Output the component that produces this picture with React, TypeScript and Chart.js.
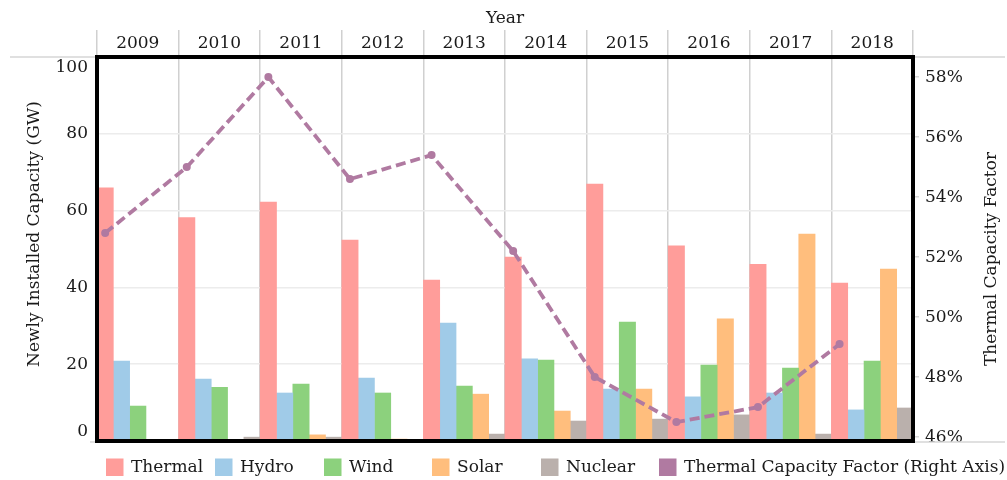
import React, { useEffect, useRef } from 'react';
import { Chart, registerables } from 'chart.js';

Chart.register(...registerables);

// ---------- data ----------
const years = ['2009', '2010', '2011', '2012', '2013', '2014', '2015', '2016', '2017', '2018'];
const thermal = [65.9, 58.2, 62.2, 52.3, 41.9, 47.9, 66.9, 50.8, 46.0, 41.1];
const hydro = [20.8, 16.1, 12.5, 16.4, 30.7, 21.4, 13.5, 11.5, 12.5, 8.1];
const wind = [9.1, 14.0, 14.8, 12.5, 14.3, 21.1, 31.0, 19.8, 19.0, 20.8];
const solar = [0, 0, 1.6, 0.5, 12.2, 7.8, 13.5, 31.8, 53.9, 44.8];
const nuclear = [0, 1.0, 1.0, 0, 1.8, 5.2, 5.7, 6.8, 1.8, 8.6];
const capacityFactor = [52.8, 55.0, 58.0, 54.6, 55.4, 52.2, 48.0, 46.5, 47.0, 49.1];
const leftMin = 0;
const leftMax = 100;
const rightTickValues = [46, 48, 50, 52, 54, 56, 58];

const seriesNames = ['Thermal', 'Hydro', 'Wind', 'Solar', 'Nuclear'];
const lineName = 'Thermal Capacity Factor (Right Axis)';

// ---------- styles ----------
const FONT = 'DejaVu Serif';
const TEXT = '#1a1a1a';
const barColors = ['#ff9d9a', '#a0cbe8', '#8cd17d', '#ffbe7d', '#bab0ac'];
const lineColor = '#b07aa1';
const LEGEND_X = [106, 215, 324, 432, 541, 659];

const decorPlugin = {
  id: 'decor',
  beforeDatasetsDraw(chart: any) {
    const { ctx, chartArea } = chart;
    ctx.save();
    ctx.strokeStyle = '#d6d6d6';
    ctx.lineWidth = 1.5;
    ctx.beginPath();
    ctx.moveTo(10, chartArea.top);
    ctx.lineTo(1005, chartArea.top);
    ctx.moveTo(90, chartArea.bottom + 1);
    ctx.lineTo(1005, chartArea.bottom + 1);
    ctx.stroke();
    ctx.restore();
  },
  afterDraw(chart: any) {
    const { ctx, chartArea } = chart;
    ctx.save();
    // frame
    ctx.strokeStyle = '#000';
    ctx.lineWidth = 4;
    ctx.strokeRect(chartArea.left, chartArea.top, chartArea.right - chartArea.left, chartArea.bottom - chartArea.top);

    ctx.fillStyle = TEXT;
    ctx.font = `17px "${FONT}"`;

    // end labels of the left axis, pulled inside the frame
    const yScale = chart.scales.y;
    ctx.textAlign = 'right';
    ctx.textBaseline = 'middle';
    ctx.fillText(String(leftMax), chartArea.left - 9, yScale.getPixelForValue(leftMax) + 11);
    ctx.fillText(String(leftMin), chartArea.left - 9, yScale.getPixelForValue(leftMin) - 9);

    // axis titles
    ctx.textAlign = 'center';
    ctx.save();
    ctx.translate(35, 234);
    ctx.rotate(-Math.PI / 2);
    ctx.fillText('Newly Installed Capacity (GW)', 0, 0);
    ctx.restore();
    ctx.save();
    ctx.translate(992, 259);
    ctx.rotate(-Math.PI / 2);
    ctx.fillText('Thermal Capacity Factor', 0, 0);
    ctx.restore();

    // legend
    const ds = chart.data.datasets;
    ds.forEach((d: any, k: number) => {
      const x = LEGEND_X[k];
      ctx.fillStyle = d.type === 'line' ? lineColor : d.backgroundColor;
      ctx.fillRect(x, 458.5, 17.5, 17.5);
      ctx.fillStyle = TEXT;
      ctx.textAlign = 'left';
      ctx.textBaseline = 'middle';
      ctx.fillText(d.label, x + 25, 468);
    });
    ctx.restore();
  },
};

export default function App() {
  const ref = useRef<HTMLCanvasElement | null>(null);

  useEffect(() => {
    if (!ref.current) return;
    const barSeries = [thermal, hydro, wind, solar, nuclear];
    const slot = 1 / barSeries.length;
    const firstOffset = -0.5 + slot / 2;

    const chart = new Chart(ref.current, {
      type: 'bar',
      data: {
        labels: years,
        datasets: [
          ...barSeries.map((arr, k) => ({
            type: 'bar',
            label: seriesNames[k],
            data: arr.map((v, i) => ({ x: i + firstOffset + k * slot, y: v })),
            backgroundColor: barColors[k],
            xAxisID: 'xl',
            yAxisID: 'y',
            grouped: false,
            categoryPercentage: 1,
            barPercentage: 1,
            borderWidth: 0,
            order: 1,
          })),
          {
            type: 'line',
            label: lineName,
            data: capacityFactor.map((v, i) => ({ x: i + firstOffset, y: v })),
            xAxisID: 'xl',
            yAxisID: 'y2',
            borderColor: lineColor,
            backgroundColor: lineColor,
            borderWidth: 3.8,
            borderDash: [10, 5],
            pointRadius: 4,
            pointBackgroundColor: lineColor,
            pointBorderWidth: 0,
            tension: 0,
            order: 0,
          } as any,
        ],
      },
      options: {
        responsive: false,
        animation: false,
        layout: { padding: { bottom: 39, top: 0, left: 0, right: 0 } },
        plugins: {
          legend: { display: false },
          tooltip: { enabled: false },
        },
        scales: {
          x: {
            type: 'category',
            position: 'top',
            offset: true,
            grid: { offset: true, color: '#d0d0d0', lineWidth: 1.5, tickLength: 27, drawOnChartArea: true },
            border: { display: false },
            ticks: { padding: -24, font: { family: FONT, size: 17 }, color: TEXT, maxRotation: 0 },
            title: { display: true, text: 'Year', padding: { top: 8, bottom: 0 }, font: { family: FONT, size: 17 }, color: TEXT },
            afterFit: (s: any) => { s.height = 57; },
          },
          xl: {
            type: 'linear',
            display: false,
            offset: false,
            min: -0.5,
            max: 9.5,
            ticks: { stepSize: 1 },
          },
          y: {
            position: 'left',
            min: leftMin,
            max: leftMax,
            ticks: {
              stepSize: 20,
              padding: 9,
              font: { family: FONT, size: 17 },
              color: TEXT,
              callback: (v: any) => (v === leftMin || v === leftMax ? '' : String(v)),
            },
            grid: { color: '#ececec', lineWidth: 1.5, drawTicks: false },
            border: { display: false },
            afterFit: (s: any) => { s.width = 97; },
          },
          y2: {
            position: 'right',
            min: 45.87,
            max: 58.67,
            afterBuildTicks: (s: any) => { s.ticks = rightTickValues.map((v) => ({ value: v })); },
            ticks: { padding: 6, font: { family: FONT, size: 17 }, color: TEXT, callback: (v: any) => `${v}%` },
            grid: { drawOnChartArea: false, tickLength: 6, color: '#d8d8d8', lineWidth: 1.5 },
            border: { display: false },
            afterFit: (s: any) => { s.width = 94; },
          },
        },
      } as any,
      plugins: [decorPlugin],
    });
    return () => chart.destroy();
  }, []);

  return (
    <div style={{ position: 'fixed', left: 0, top: 0, width: 1007, height: 480, background: '#fff' }}>
      <canvas ref={ref} width={1007} height={480} style={{ display: 'block', width: 1007, height: 480 }} />
    </div>
  );
}
